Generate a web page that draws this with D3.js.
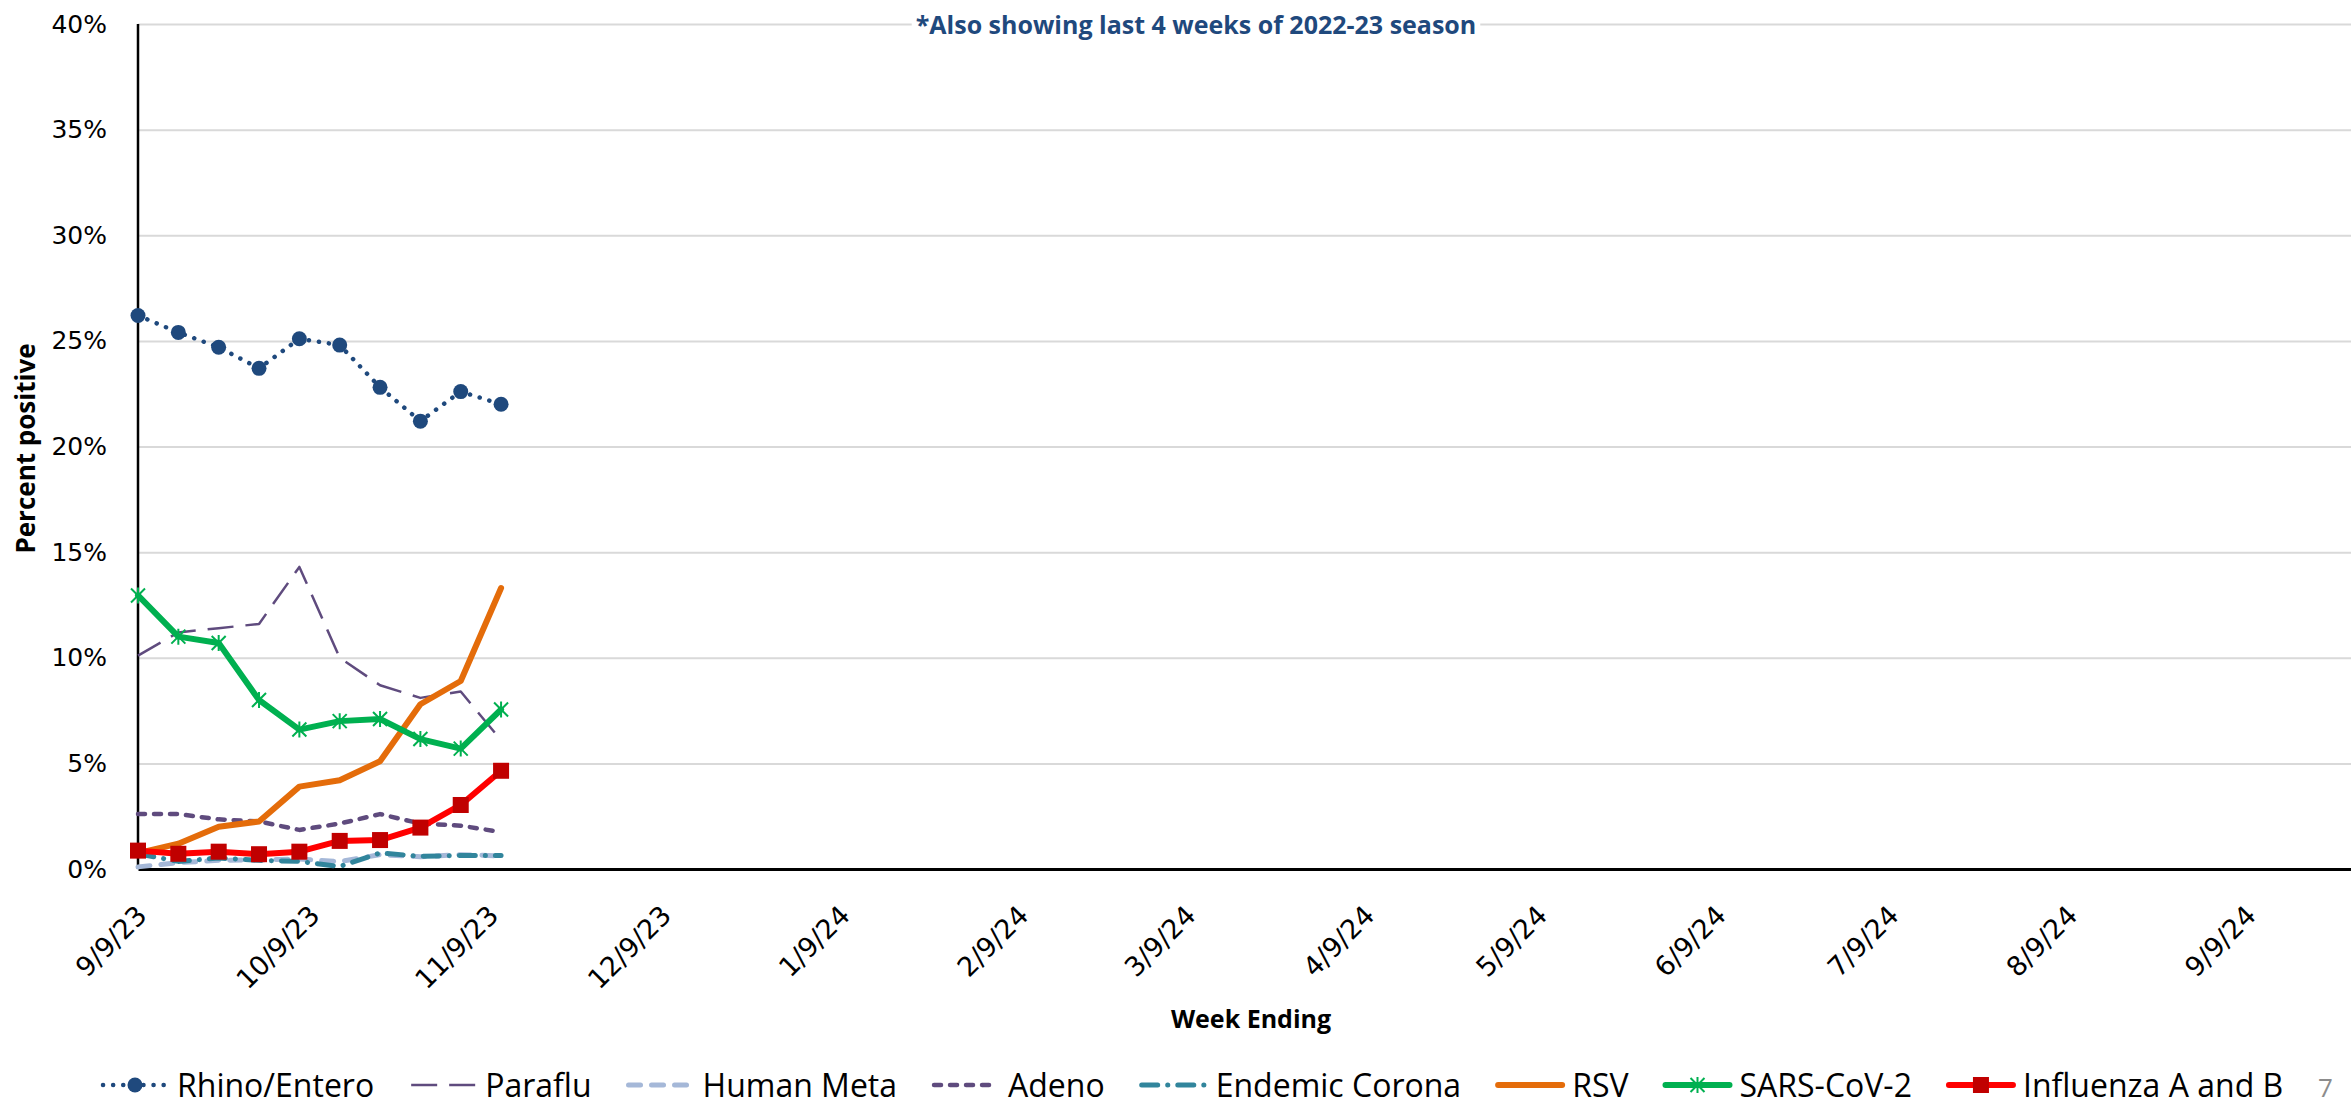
<!DOCTYPE html>
<html>
<head>
<meta charset="utf-8">
<script src="https://cdn.jsdelivr.net/npm/d3@7"></script>
<style>
  html, body { margin: 0; padding: 0; background: #fff; }
  svg { display: block; }
</style>
</head>
<body>
<script>
// ---------- DATA ----------
const weekEnding = ["2023-09-09","2023-09-16","2023-09-23","2023-09-30","2023-10-07",
                    "2023-10-14","2023-10-21","2023-10-28","2023-11-04","2023-11-11"];
const rhinoEntero   = [26.2, 25.4, 24.7, 23.7, 25.1, 24.8, 22.8, 21.2, 22.6, 22.0];
const paraflu       = [10.1, 11.2, 11.4, 11.6, 14.3, 10.0, 8.7, 8.1, 8.4, 6.1];
const humanMeta     = [0.1, 0.3, 0.41, 0.43, 0.47, 0.35, 0.68, 0.58, 0.68, 0.62];
const adeno         = [2.6, 2.6, 2.35, 2.25, 1.85, 2.15, 2.6, 2.15, 2.05, 1.75];
const endemicCorona = [0.72, 0.36, 0.52, 0.41, 0.36, 0.12, 0.76, 0.6, 0.64, 0.64];
const rsv           = [0.75, 1.2, 2.0, 2.25, 3.9, 4.2, 5.1, 7.8, 8.9, 13.3];
const sarsCov2      = [12.95, 11.0, 10.7, 8.0, 6.6, 7.0, 7.1, 6.15, 5.7, 7.55];
const influenzaAB   = [0.87, 0.72, 0.82, 0.7, 0.82, 1.33, 1.37, 1.96, 3.03, 4.65];

const seriesNames = ["Rhino/Entero","Paraflu","Human Meta","Adeno","Endemic Corona","RSV","SARS-CoV-2","Influenza A and B"];
const seriesValues = [rhinoEntero, paraflu, humanMeta, adeno, endemicCorona, rsv, sarsCov2, influenzaAB];

const yTickValues = [0, 5, 10, 15, 20, 25, 30, 35, 40];
const xTickDates = ["2023-09-09","2023-10-09","2023-11-09","2023-12-09","2024-01-09","2024-02-09",
                    "2024-03-09","2024-04-09","2024-05-09","2024-06-09","2024-07-09","2024-08-09","2024-09-09"];
const xDomain = ["2023-09-09","2024-09-27"];

const noteText = "*Also showing last 4 weeks of 2022-23 season";
const xTitle = "Week Ending";
const yTitle = "Percent positive";

// ---------- STYLES ----------
const styles = [
  {color:"#1F497D", width:4.5, dash:"0.1 10", cap:"round", marker:"circle"},
  {color:"#5F4B7E", width:2.5, dash:"26 12", cap:"butt", marker:null},
  {color:"#A5B8D8", width:5, dash:"12 11", cap:"round", marker:null},
  {color:"#5F4B7E", width:4.5, dash:"7 9", cap:"round", marker:null},
  {color:"#31859C", width:5, dash:"16 10 0.1 10", cap:"round", marker:null},
  {color:"#E46C0A", width:6, dash:null, cap:"round", marker:null},
  {color:"#00B050", width:6, dash:null, cap:"round", marker:"star"},
  {color:"#FF0000", width:6, dash:null, cap:"round", marker:"square"}
];

// ---------- LAYOUT ----------
const W = 2351, H = 1105;
const pLeft = 138, pRight = 2351, pTop = 24, pBottom = 869;
const parse = d3.timeParse("%Y-%m-%d");

const svg = d3.select("body").append("svg").attr("width", W).attr("height", H)
  .style("font-family", "'DejaVu Sans', Verdana, sans-serif");

const x = d3.scaleTime().domain(xDomain.map(parse)).range([pLeft, pRight]);
const y = d3.scaleLinear().domain([0, 40]).range([pBottom, pTop]);

// gridlines + y tick labels
const yAxisG = svg.append("g").attr("transform", `translate(${pLeft},0)`)
  .call(d3.axisLeft(y).tickValues(yTickValues).tickSize(-(pRight-pLeft)).tickFormat(d => d + "%").tickPadding(31));
yAxisG.select(".domain").remove();
yAxisG.selectAll(".tick line").attr("stroke", "#D9D9D9").attr("stroke-width", 2)
  .filter(d => d === 0).remove();
yAxisG.selectAll(".tick text").attr("font-size", 25).attr("fill", "#000")
  .attr("font-family", "'DejaVu Sans', Verdana, sans-serif");

// note (with white box)
const noteG = svg.append("g");
const note = noteG.append("text").attr("x", 1196).attr("y", 34).attr("text-anchor", "middle")
  .attr("font-family", "'Open Sans', sans-serif").attr("font-weight", "bold").attr("font-size", 25)
  .attr("fill", "#1F497D").text(noteText);
const nb = note.node().getBBox();
noteG.insert("rect", "text").attr("x", nb.x - 4).attr("y", nb.y).attr("width", nb.width + 8)
  .attr("height", nb.height).attr("fill", "#fff");

// x axis
const xAxisG = svg.append("g").attr("transform", `translate(0,${pBottom})`)
  .call(d3.axisBottom(x).tickValues(xTickDates.map(parse)).tickSize(0)
        .tickFormat(d => `${d.getMonth()+1}/${d.getDate()}/${String(d.getFullYear()).slice(2)}`));
xAxisG.select(".domain").attr("stroke", "#000").attr("stroke-width", 3);
xAxisG.selectAll(".tick text")
  .attr("font-size", 27).attr("fill", "#000").attr("font-family", "'DejaVu Sans', Verdana, sans-serif")
  .attr("text-anchor", "end").attr("dy", 0).attr("y", 0)
  .attr("transform", "translate(10,48) rotate(-45)");

// y axis line
svg.append("line").attr("x1", pLeft).attr("x2", pLeft).attr("y1", pTop).attr("y2", pBottom)
  .attr("stroke", "#000").attr("stroke-width", 2.5);

// titles
svg.append("text").attr("x", 1251).attr("y", 1028).attr("text-anchor", "middle")
  .attr("font-family", "'Open Sans', sans-serif").attr("font-weight", "bold").attr("font-size", 25)
  .text(xTitle);
svg.append("text").attr("transform", `translate(35,${(pTop+pBottom)/2 + 2}) rotate(-90)`).attr("text-anchor", "middle")
  .attr("font-family", "'Open Sans', sans-serif").attr("font-weight", "bold").attr("font-size", 26)
  .text(yTitle);

// markers
function drawMarker(g, type, cx, cy, color) {
  if (type === "circle") {
    g.append("circle").attr("cx", cx).attr("cy", cy).attr("r", 7.5).attr("fill", color);
  } else if (type === "star") {
    g.append("path").attr("transform", `translate(${cx},${cy})`)
      .attr("d", "M0,-8L0,8M-7,-7L7,7M-7,7L7,-7").attr("stroke", color).attr("stroke-width", 2).attr("fill", "none");
  } else if (type === "square") {
    g.append("rect").attr("x", cx - 8).attr("y", cy - 8).attr("width", 16).attr("height", 16).attr("fill", "#C00000");
  }
}

// series
const dates = weekEnding.map(parse);
const line = d3.line().x((d, i) => x(dates[i])).y(d => y(d));
seriesValues.forEach((vals, si) => {
  const s = styles[si];
  const g = svg.append("g");
  g.append("path").datum(vals).attr("d", line).attr("fill", "none")
    .attr("stroke", s.color).attr("stroke-width", s.width)
    .attr("stroke-dasharray", s.dash).attr("stroke-linecap", s.cap).attr("stroke-linejoin", "round");
  if (s.marker) vals.forEach((v, i) => drawMarker(g, s.marker, x(dates[i]), y(v), s.color));
});

// legend
const legG = svg.append("g");
let lx = 100; const ly = 1085;
seriesNames.forEach((name, si) => {
  const s = styles[si];
  const g = legG.append("g");
  g.append("line").attr("x1", lx + 3).attr("x2", lx + 67).attr("y1", ly).attr("y2", ly)
    .attr("stroke", s.color).attr("stroke-width", s.width)
    .attr("stroke-dasharray", s.dash).attr("stroke-linecap", s.cap);
  if (s.marker) drawMarker(g, s.marker, lx + 35, ly, s.color);
  const t = g.append("text").attr("x", lx + 77).attr("y", ly + 12)
    .attr("font-family", "'Open Sans', sans-serif").attr("font-size", 32).attr("fill", "#000").text(name);
  lx += 77 + t.node().getComputedTextLength() + 34;
});

// page number fragment
svg.append("text").attr("x", 2318).attr("y", 1097).attr("font-family", "'Open Sans', sans-serif")
  .attr("font-size", 26).attr("fill", "#8c8c8c").text("7");
</script>
</body>
</html>
